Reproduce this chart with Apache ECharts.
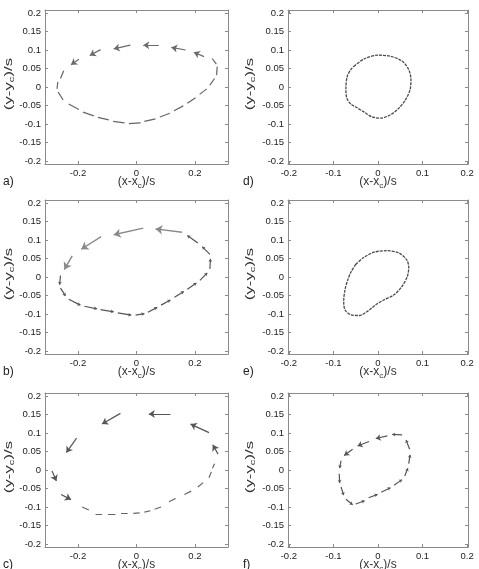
<!DOCTYPE html>
<html>
<head>
<meta charset="utf-8">
<script src="https://cdn.jsdelivr.net/npm/echarts@6/dist/echarts.min.js"></script>
<style>
  html, body { margin: 0; padding: 0; background: #fff; }
  #chart { width: 479px; height: 569px; }
</style>
</head>
<body>
<div id="chart"></div>
<script>
// quiver segments [x0, y0, x1, y1] in (x-xc)/s, (y-yc)/s
const aArrows = [
  [0.231, 0.082, 0.196, 0.094], [0.168, 0.100, 0.119, 0.107], [0.076, 0.113, 0.023, 0.113],
  [-0.021, 0.113, -0.078, 0.103], [-0.123, 0.101, -0.160, 0.085], [-0.197, 0.075, -0.224, 0.060]
]
const aDashes = [
  [-0.249, 0.044, -0.260, 0.023], [-0.269, 0.014, -0.272, -0.005], [-0.268, -0.014, -0.251, -0.035],
  [-0.232, -0.046, -0.197, -0.061], [-0.183, -0.068, -0.146, -0.078], [-0.132, -0.082, -0.095, -0.089],
  [-0.080, -0.093, -0.041, -0.097], [-0.026, -0.099, 0.014, -0.097], [0.027, -0.093, 0.065, -0.086],
  [0.080, -0.081, 0.114, -0.071], [0.128, -0.064, 0.160, -0.051], [0.174, -0.044, 0.202, -0.029],
  [0.216, -0.020, 0.240, -0.005], [0.251, 0.005, 0.267, 0.023], [0.274, 0.032, 0.276, 0.055],
  [0.273, 0.062, 0.259, 0.077]
]
const bArrows = [
  [0.156, 0.121, 0.065, 0.130], [0.023, 0.132, -0.078, 0.114],
  [-0.121, 0.109, -0.189, 0.075], [-0.220, 0.057, -0.247, 0.020]
]
const bDashes = [
  [-0.260, 0.004, -0.263, -0.021], [-0.260, -0.030, -0.243, -0.051], [-0.232, -0.060, -0.192, -0.076],
  [-0.178, -0.079, -0.135, -0.086], [-0.123, -0.088, -0.078, -0.094], [-0.064, -0.097, -0.018, -0.103],
  [-0.003, -0.103, 0.027, -0.099], [0.039, -0.095, 0.071, -0.082], [0.084, -0.076, 0.116, -0.062],
  [0.130, -0.055, 0.162, -0.039], [0.174, -0.033, 0.205, -0.016], [0.217, -0.009, 0.242, 0.011],
  [0.251, 0.022, 0.253, 0.049], [0.251, 0.061, 0.225, 0.082], [0.210, 0.092, 0.174, 0.112]
]
const cArrows = [
  [0.248, 0.101, 0.185, 0.124], [0.116, 0.151, 0.042, 0.151], [-0.055, 0.153, -0.118, 0.124],
  [-0.205, 0.086, -0.240, 0.047], [-0.289, -0.003, -0.274, -0.030], [-0.258, -0.066, -0.224, -0.080],
  [0.279, 0.043, 0.261, 0.068]
]
const cDashes = [
  [-0.186, -0.100, -0.163, -0.108], [-0.140, -0.119, -0.118, -0.119], [-0.098, -0.119, -0.072, -0.119],
  [-0.053, -0.118, -0.030, -0.118], [-0.011, -0.117, 0.011, -0.116], [0.027, -0.114, 0.048, -0.110],
  [0.062, -0.106, 0.084, -0.100], [0.111, -0.086, 0.134, -0.077], [0.164, -0.066, 0.187, -0.057],
  [0.210, -0.046, 0.228, -0.034], [0.248, -0.021, 0.256, -0.005], [0.260, 0.005, 0.267, 0.017]
]
const fArrows = [
  [0.021, 0.092, -0.005, 0.085], [-0.020, 0.077, -0.046, 0.065], [-0.057, 0.056, -0.076, 0.039]
]
const fDashes = [
  [0.071, 0.056, 0.063, 0.081], [0.054, 0.095, 0.032, 0.096], [-0.083, 0.025, -0.086, 0.005],
  [-0.087, -0.010, -0.086, -0.035], [-0.083, -0.046, -0.077, -0.068], [-0.072, -0.079, -0.057, -0.094],
  [-0.050, -0.092, -0.030, -0.083], [-0.021, -0.075, -0.001, -0.066], [0.007, -0.060, 0.028, -0.048],
  [0.036, -0.041, 0.054, -0.026], [0.060, -0.016, 0.067, 0.005], [0.069, 0.017, 0.072, 0.041]
]
// closed orbits, panels d and e
const dCurve = [
  [-0.054, 0.056], [-0.031, 0.076], [-0.001, 0.086], [0.028, 0.083], [0.054, 0.070], [0.069, 0.047],
  [0.074, 0.020], [0.072, -0.007], [0.062, -0.034], [0.047, -0.057], [0.028, -0.075], [0.006, -0.084],
  [-0.013, -0.081], [-0.031, -0.068], [-0.047, -0.056], [-0.061, -0.046], [-0.070, -0.030],
  [-0.072, -0.003], [-0.069, 0.029], [-0.061, 0.047], [-0.054, 0.056]
]
const eCurve = [
  [-0.050, 0.034], [-0.033, 0.052], [-0.009, 0.067], [0.021, 0.071], [0.047, 0.065], [0.064, 0.047],
  [0.069, 0.027], [0.066, 0.002], [0.054, -0.025], [0.036, -0.048], [0.013, -0.062], [-0.005, -0.075],
  [-0.024, -0.093], [-0.042, -0.104], [-0.061, -0.102], [-0.074, -0.089], [-0.077, -0.066],
  [-0.074, -0.034], [-0.067, -0.005], [-0.060, 0.015], [-0.050, 0.034]
]

const panelLabels = ['a)', 'b)', 'c)', 'd)', 'e)', 'f)']
const wideXTicks = [-0.2, 0, 0.2]
const narrowXTicks = [-0.2, -0.1, 0, 0.1, 0.2]
const yTicks = [-0.2, -0.15, -0.1, -0.05, 0, 0.05, 0.1, 0.15, 0.2]

const chart = echarts.init(document.getElementById('chart'))

const rowTops = [10, 200, 393]
const colLefts = [45, 288]
const colWidths = [183, 180]
const plotH = 154
const xRanges = [0.313, 0.202]
const yRange = 0.208

const grids = []
const xAxes = []
const yAxes = []
const graphics = []
const boxColor = '#8a8a8a'
const font = 'Liberation Sans, Arial, sans-serif'

function axisBase(gridIndex, min, max, ticks, pos, labels) {
  return {
    type: 'value', gridIndex, min, max, position: pos,
    axisLine: { show: true, onZero: false, lineStyle: { color: boxColor, width: 1 } },
    axisTick: { show: true, inside: true, length: 3, customValues: ticks, lineStyle: { color: boxColor } },
    axisLabel: {
      show: labels, customValues: ticks, fontSize: 9.5, color: '#222', margin: 4,
      fontFamily: font,
      formatter: (v) => String(v)
    },
    splitLine: { show: false }
  }
}

function subText(base) {
  return {
    text: '{n|(' + base + '-' + base + '}{s|c}{n|)/s}', align: 'center', verticalAlign: 'middle',
    rich: {
      n: { fontSize: 12, fill: '#333', fontFamily: font },
      s: { fontSize: 8, fill: '#333', padding: [7, 0, 0, 0], fontFamily: font }
    }
  }
}

for (let p = 0; p < 6; p++) {
  const col = p < 3 ? 0 : 1
  const row = p % 3
  const top = rowTops[row]
  grids.push({ left: colLefts[col], top, width: colWidths[col], height: plotH })
  const xr = xRanges[col]
  const xt = col === 0 ? wideXTicks : narrowXTicks
  xAxes[p] = axisBase(p, -xr, xr, xt, 'bottom', true)
  xAxes[p + 6] = axisBase(p, -xr, xr, xt, 'top', false)
  yAxes[p] = axisBase(p, -yRange, yRange, yTicks, 'left', true)
  yAxes[p + 6] = axisBase(p, -yRange, yRange, yTicks, 'right', false)

  const cx = colLefts[col] + colWidths[col] / 2
  const nameY = top + plotH + 18
  graphics.push({ type: 'text', x: cx, y: nameY, style: subText('x') })
  graphics.push({
    type: 'text', x: col === 0 ? 9 : 250, y: top + 74,
    rotation: Math.PI / 2, scaleX: 1.4, scaleY: 0.85,
    style: subText('y')
  })
  graphics.push({
    type: 'text', x: col === 0 ? 3 : 243, y: nameY,
    style: { text: panelLabels[p], fontSize: 12, fill: '#222', verticalAlign: 'middle', fontFamily: font }
  })
}

function segSeries(segs, idx, color, width, head) {
  return {
    type: 'lines', coordinateSystem: 'cartesian2d', xAxisIndex: idx, yAxisIndex: idx,
    symbol: head ? ['none', 'arrow'] : ['none', 'none'],
    symbolSize: head,
    silent: true,
    lineStyle: { color, width, opacity: 1, curveness: 0 },
    data: segs.map((s) => ({ coords: [[s[0], s[1]], [s[2], s[3]]] }))
  }
}

function orbitSeries(pts, idx) {
  return {
    type: 'line', xAxisIndex: idx, yAxisIndex: idx, data: pts, smooth: 0.3,
    showSymbol: false, silent: true,
    lineStyle: { color: '#4a4a4a', width: 1.3, type: [3, 1] }
  }
}

const series = [
  segSeries(aArrows, 0, '#6a6a6a', 1.2, 6),
  segSeries(aDashes, 0, '#666', 1.2, 0),
  segSeries(bArrows, 1, '#8a8a8a', 1.4, 7),
  segSeries(bDashes, 1, '#555', 1.2, 3),
  segSeries(cArrows, 2, '#555', 1.2, 6),
  segSeries(cDashes, 2, '#666', 1.2, 0),
  orbitSeries(dCurve, 3),
  orbitSeries(eCurve, 4),
  segSeries(fArrows, 5, '#555', 1.2, 5),
  segSeries(fDashes, 5, '#555', 1.2, 3)
]

chart.setOption({
  animation: false,
  grid: grids,
  xAxis: xAxes,
  yAxis: yAxes,
  graphic: graphics,
  series
})
</script>
</body>
</html>
